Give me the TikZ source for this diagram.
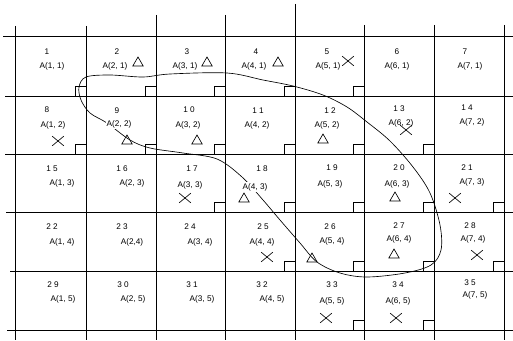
\documentclass[tikz,border=0pt]{standalone}
\usepackage{fontspec}
\setmainfont{Liberation Sans}
\usetikzlibrary{shapes.geometric,shapes.misc}

\begin{document}
\begin{tikzpicture}[
    x=0.03cm, y=-0.03cm,
    every node/.style={font=\fontsize{7}{8}\selectfont, inner sep=1pt},
    gridline/.style={line width=0.7pt},
    corner/.style={line width=0.5pt},
    cellname/.style={fill=white},
    boundary/.style={line width=0.55pt},
    tri/.style={regular polygon, regular polygon sides=3, draw,
                line width=0.55pt, minimum size=0.36cm, inner sep=0pt},
    xmark/.style={cross out, draw, line width=0.55pt,
                  minimum width=0.33cm, minimum height=0.27cm, inner sep=0pt},
]
\useasboundingbox (0,0) rectangle (513,340);

% Grid lines
\foreach \gy/\gx in {36/3,96/5,154/5,212/6,271/10,330/7}
  \draw[gridline] (\gx,\gy) -- (513,\gy);
\foreach \gx/\gtop in {15/26,86/26,156/15,225/15,295/4,364/25,434/25,504/25}
  \draw[gridline] (\gx,\gtop) -- (\gx,340);

% Corner marks
\foreach \cx/\cy in {86/96,156/96,225/96,295/96,364/96,
                     86/154,156/154,225/154,295/154,364/154,434/154,
                     225/212,295/212,364/212,434/212,504/212,
                     295/271,364/271,434/271,504/271,
                     364/330,434/330}
  \draw[corner] (\cx,\cy) rectangle +(-11,-10);

% Boundary curve
\draw[boundary] plot[smooth cycle, tension=0.55] coordinates {
  (86,77) (110,75) (143,77) (170,74) (227,73) (263,80) (293,86)
  (323,95) (347,107) (367,122) (390,141) (413,167) (430,193)
  (440,225) (441,250) (431,265) (405,273) (367,277) (340,273)
  (317,262) (300,243) (280,220) (263,200) (242,177) (217,159)
  (183,153) (150,148) (130,140) (107,123) (90,113) (81,100) (79,87)};

% Cell numbers and names
\foreach \k/\nx/\ny/\num/\ax/\ay/\txt in {
    1/47/52/1/52/66/{A(1, 1)}, 2/117/52/2/115/66/{A(2, 1)},
    3/187/52/3/185/66/{A(3, 1)}, 4/256/52/4/254/66/{A(4, 1)},
    5/327/52/5/328/66/{A(5, 1)}, 6/397/52/6/397/66/{A(6, 1)},
    7/465/52/7/470/66/{A(7, 1)},
    8/47/110/8/53/125/{A(1, 2)}, 9/117/111/9/119/124/{A(2, 2)},
    10/189/110/{1 0}/188/125/{A(3, 2)}, 11/258/111/{1 1}/257/125/{A(4, 2)},
    12/330/111/{1 2}/327/125/{A(5, 2)}, 13/399/109/{1 3}/401/123/{A(6, 2)},
    14/467/108/{1 4}/472/122/{A(7, 2)},
    15/52/169/{1 5}/62/183/{A(1, 3)}, 16/122/169/{1 6}/132/183/{A(2, 3)},
    17/192/169/{1 7}/190/185/{A(3, 3)}, 18/262/169/{1 8}/255/187/{A(4, 3)},
    19/332/168/{1 9}/330/184/{A(5, 3)}, 20/399/168/{2 0}/397/184/{A(6, 3)},
    21/467/168/{2 1}/472/182/{A(7, 3)},
    22/52/227/{2 2}/62/242/{A(1, 4)}, 23/122/227/{2 3}/132/242/{A(2,4)},
    24/190/227/{2 4}/200/242/{A(3, 4)}, 25/263/227/{2 5}/262/242/{A(4, 4)},
    26/330/227/{2 6}/332/241/{A(5, 4)}, 27/399/226/{2 7}/399/239/{A(6, 4)},
    28/470/226/{2 8}/473/239/{A(7, 4)},
    29/53/285/{2 9}/63/299/{A(1, 5)}, 30/123/285/{3 0}/133/299/{A(2, 5)},
    31/192/285/{3 1}/202/299/{A(3, 5)}, 32/262/285/{3 2}/272/299/{A(4, 5)},
    33/332/285/{3 3}/332/301/{A(5, 5)}, 34/398/285/{3 4}/398/301/{A(6, 5)},
    35/470/283/{3 5}/475/295/{A(7, 5)}}
{
  \node (n\k) at (\nx,\ny) {\num};
  \node[cellname] (a\k) at (\ax,\ay) {\txt};
}

% Triangles
\foreach \k/\mx/\my in {2/138/63,3/207/63,4/278/63,9/127/141,10/197/141,
                        12/323/140,18/244/199,20/395/198,26/312/259,27/394/255}
  \node[tri] (t\k) at (\mx,\my) {};

% Crosses
\foreach \k/\mx/\my in {5/348/61,8/58/141,13/406/130,17/185/198,21/455/198,
                        25/267/257,28/477/255,33/326/318,34/396/318}
  \node[xmark] (x\k) at (\mx,\my) {};

\end{tikzpicture}
\end{document}
